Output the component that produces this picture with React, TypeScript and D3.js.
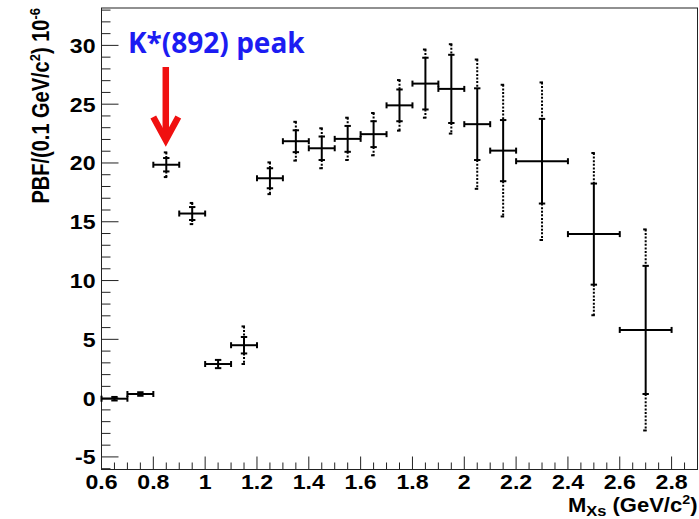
import React from 'react';
import * as d3 from 'd3';

// Mass bins of the Xs system (GeV/c^2)
const binLo = [0.6, 0.7, 0.8, 0.9, 1.0, 1.1, 1.2, 1.3, 1.4, 1.5, 1.6, 1.7, 1.8, 1.9, 2.0, 2.1, 2.2, 2.4, 2.6];
const binHi = [0.7, 0.8, 0.9, 1.0, 1.1, 1.2, 1.3, 1.4, 1.5, 1.6, 1.7, 1.8, 1.9, 2.0, 2.1, 2.2, 2.4, 2.6, 2.8];
// Partial branching fraction per bin (x 10^-6)
const pbf = [-0.05, 0.35, 19.85, 15.7, 2.9, 4.5, 18.7, 21.85, 21.25, 22.05, 22.45, 24.9, 26.75, 26.3, 23.3, 21.05, 20.15, 13.95, 5.8];
// Statistical error
const statErr = [0.15, 0.15, 0.57, 0.55, 0.35, 0.7, 0.85, 0.93, 1.0, 1.1, 1.1, 1.35, 2.2, 2.9, 3.05, 2.6, 3.6, 4.3, 5.45];
// Total (stat + syst) error
const totErr = [0.15, 0.15, 1.05, 0.9, 0.35, 1.6, 1.35, 1.65, 1.7, 1.8, 1.8, 2.15, 2.9, 3.8, 5.5, 5.6, 6.7, 6.9, 8.55];

const yTickValues = [-5, 0, 5, 10, 15, 20, 25, 30];
const xTickValues = [0.6, 0.8, 1.0, 1.2, 1.4, 1.6, 1.8, 2.0, 2.2, 2.4, 2.6, 2.8];
const xTickLabels = ['0.6', '0.8', '1', '1.2', '1.4', '1.6', '1.8', '2', '2.2', '2.4', '2.6', '2.8'];

const annotation = 'K*(892) peak';
const peakMass = 0.85;

const W = 699;
const H = 519;
const left = 101.5;
const right = 697.5;
const top = 8;
const bottom = 469.5;

const FONT = "'Liberation Sans', Arial, Helvetica, sans-serif";
const SX = 1.1; // horizontal stretch of axis text

export default function App() {
  const x = d3.scaleLinear().domain([0.6, 2.9]).range([left, right]);
  const y = d3.scaleLinear().domain([-6.07, 33.18]).range([bottom, top]);

  const yMinor = d3.range(-6, 34, 1).filter((v) => v % 5 !== 0 && y(v) >= top && y(v) <= bottom);
  const xMinor = d3.range(0, 47).map((i) => 0.6 + i * 0.05).filter((v) => x(v) <= right + 0.1);

  const cap = 3.2;
  const hcap = 3;

  return (
    <svg
      width={W}
      height={H}
      style={{ position: 'absolute', left: 0, top: 0, background: '#fff' }}
      xmlns="http://www.w3.org/2000/svg"
    >
      <rect x={0} y={0} width={W} height={H} fill="#fff" />

      {/* frame */}
      <rect x={left} y={top} width={right - left} height={bottom - top} fill="none" stroke="#222" strokeWidth={1} />

      {/* y ticks */}
      <g stroke="#222" strokeWidth={1}>
        {yTickValues.map((v) => (
          <line key={'ym' + v} x1={left} x2={left + 17} y1={y(v)} y2={y(v)} />
        ))}
        {yMinor.map((v) => (
          <line key={'yn' + v} x1={left} x2={left + 9} y1={y(v)} y2={y(v)} />
        ))}
      </g>
      {/* x ticks */}
      <g stroke="#222" strokeWidth={1}>
        {xMinor.map((v, i) => {
          const major = i % 4 === 0;
          return <line key={'x' + i} x1={x(v)} x2={x(v)} y1={bottom} y2={bottom - (major ? 13 : 7)} />;
        })}
      </g>

      {/* tick labels */}
      <g fontFamily={FONT} fontWeight="bold" fontSize={21} fill="#000">
        {yTickValues.map((v) => (
          <text key={'yl' + v} transform={`translate(${left - 6},${y(v) + 7.5}) scale(${SX},1)`} textAnchor="end">
            {v}
          </text>
        ))}
        {xTickValues.map((v, i) => (
          <text key={'xl' + v} transform={`translate(${x(v)},${bottom + 19}) scale(${SX},1)`} textAnchor="middle">
            {xTickLabels[i]}
          </text>
        ))}
      </g>

      {/* axis titles */}
      <g fontFamily={FONT} fontWeight="bold" fill="#000">
        <text transform={`translate(${right},${bottom + 42}) scale(${SX},1)`} textAnchor="end" fontSize={20}>
          M
          <tspan fontSize={15} dy={4}>Xs</tspan>
          <tspan dy={-4}> (GeV/c</tspan>
          <tspan fontSize={13} dy={-8}>2</tspan>
          <tspan dy={8}>)</tspan>
        </text>
        <text transform={`translate(49,${top}) rotate(-90) scale(1,1.15)`} textAnchor="end" fontSize={20}>
          PBF/(0.1 GeV/c
          <tspan fontSize={13} dy={-8}>2</tspan>
          <tspan dy={8}>) 10</tspan>
          <tspan fontSize={13} dy={-8}>-6</tspan>
        </text>
      </g>

      {/* data points */}
      <g stroke="#000" strokeWidth={2} fill="none">
        {pbf.map((v, i) => {
          const xc = (binLo[i] + binHi[i]) / 2;
          const px = x(xc);
          const py = y(v);
          const x0 = x(binLo[i]);
          const x1 = x(binHi[i]);
          const sTop = y(v + statErr[i]);
          const sBot = y(v - statErr[i]);
          const tTop = y(v + totErr[i]);
          const tBot = y(v - totErr[i]);
          const hasSyst = totErr[i] - statErr[i] > 0.1;
          return (
            <g key={i}>
              {hasSyst && (
                <>
                  <line x1={px} x2={px} y1={tTop} y2={sTop} strokeDasharray="2,1.6" />
                  <line x1={px} x2={px} y1={sBot} y2={tBot} strokeDasharray="2,1.6" />
                  <line x1={px - 2.5} x2={px + 1} y1={tTop} y2={tTop} />
                  <line x1={px - 2.5} x2={px + 1} y1={tBot} y2={tBot} />
                </>
              )}
              <line x1={x0} x2={x1} y1={py} y2={py} />
              <line x1={x0} x2={x0} y1={py - hcap} y2={py + hcap} />
              <line x1={x1} x2={x1} y1={py - hcap} y2={py + hcap} />
              <line x1={px} x2={px} y1={sTop} y2={sBot} />
              <line x1={px - cap} x2={px + cap} y1={sTop} y2={sTop} />
              <line x1={px - cap} x2={px + cap} y1={sBot} y2={sBot} />
            </g>
          );
        })}
      </g>

      {/* annotation */}
      <text
        x={128}
        y={53}
        fontFamily="'Open Sans', 'Noto Sans', sans-serif"
        fontWeight="bold"
        fontSize={28}
        fill="#1c1cf2"
      >
        {annotation}
      </text>
      <g stroke="#f01010" strokeWidth={6.5} fill="none" strokeLinejoin="miter" strokeLinecap="butt">
        <line x1={x(peakMass) - 0.5} x2={x(peakMass) - 0.5} y1={67} y2={139} />
        <polyline
          points={`${x(peakMass) - 13},${117} ${x(peakMass) - 0.5},${140} ${x(peakMass) + 12},${117}`}
        />
      </g>
    </svg>
  );
}
